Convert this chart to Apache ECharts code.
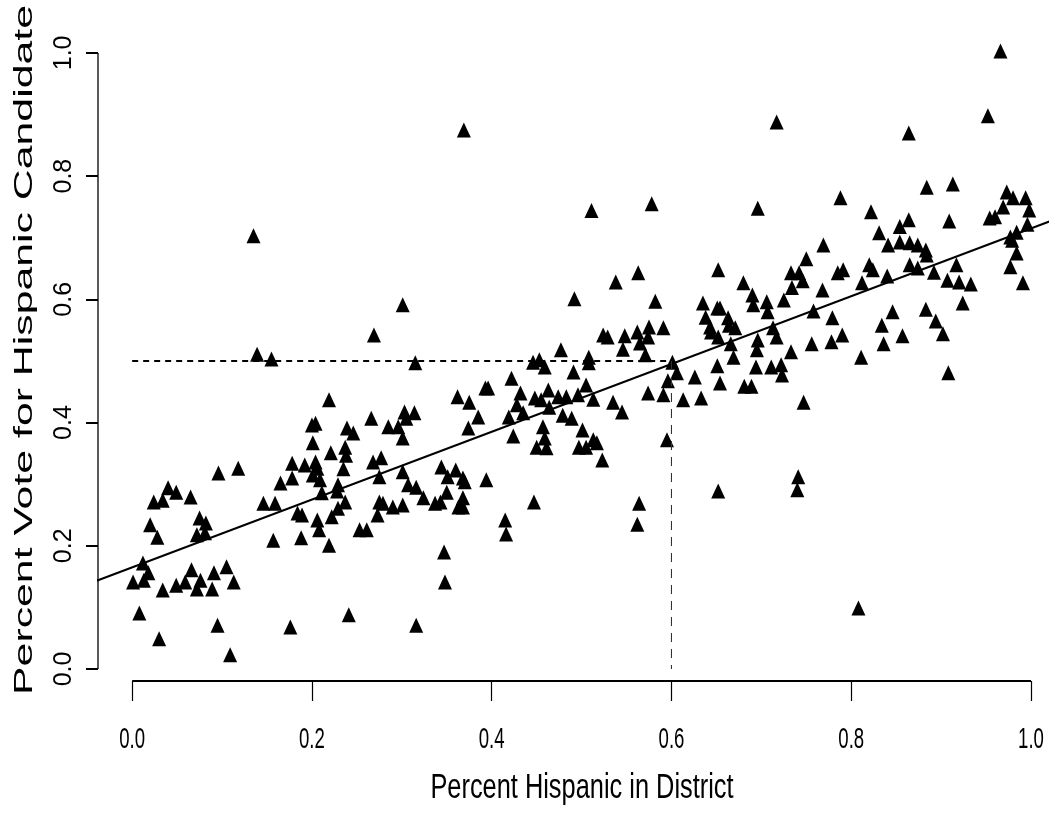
<!DOCTYPE html>
<html>
<head>
<meta charset="utf-8">
<title>Percent Hispanic vs Vote for Hispanic Candidate</title>
<script src="https://cdn.jsdelivr.net/npm/echarts@6/dist/echarts.min.js"></script>
<style>
  html, body { margin: 0; padding: 0; background: #fff; }
  #chart { width: 1049px; height: 815px; }
</style>
</head>
<body>
<div id="chart"></div>
<script>
// districts: share Hispanic (x) and vote share of the Hispanic candidate (y)
const pctHispanic = [
  0.219,0.200,0.204,0.201,0.221,0.178,0.192,0.204,0.206,0.201,0.209,0.165,0.178,0.229,0.211,0.096,0.118,0.146,0.159,0.184,
  0.189,0.206,0.208,0.222,0.229,0.157,0.188,0.219,0.040,0.049,0.034,0.024,0.065,0.020,0.028,0.075,0.082,0.081,0.072,0.012,
  0.018,0.013,0.001,0.034,0.049,0.059,0.066,0.076,0.072,0.089,0.091,0.105,0.113,0.008,0.030,0.095,0.176,0.109,
  0.301,0.269,0.315,0.446,0.453,0.459,
  0.362,0.375,0.393,0.396,0.422,0.432,0.428,0.435,0.448,0.455,0.463,0.419,0.385,0.374,0.424,0.457,0.459,0.450,0.461,0.464,
  0.266,0.285,0.303,0.305,0.314,0.296,0.301,0.239,0.246,
  0.237,0.238,0.235,0.268,0.277,0.275,0.301,0.307,0.316,0.324,0.344,0.351,0.360,0.368,0.370,0.394,0.350,0.368,0.343,0.337,
  0.363,0.368,0.275,0.279,0.290,0.301,
  0.273,0.228,0.237,0.253,0.261,
  0.415,0.416,0.447,0.347,0.348,0.241,0.316,
  0.492,0.538,0.563,0.582,0.652,0.680,0.690,0.691,0.635,0.638,0.643,0.644,0.651,0.654,0.663,0.664,0.671,0.652,0.666,0.669,
  0.651,0.654,0.681,0.689,0.694,0.696,0.695,0.524,0.529,0.548,0.546,0.562,0.565,
  0.575,0.574,0.591,0.571,0.477,0.508,0.508,0.601,0.606,0.596,0.626,0.491,0.505,0.496,
  0.474,0.483,
  0.513,0.535,0.545,0.574,
  0.591,0.613,0.633,0.479,0.489,0.501,0.497,0.505,0.513,0.517,0.523,0.595,0.652,0.564,0.562,
  0.717,0.864,0.952,0.788,0.884,0.913,0.822,0.909,0.973,0.980,0.994,0.969,0.998,0.954,0.960,0.996,0.984,0.977,0.979,0.984,
  0.977,
  0.991,0.854,0.864,0.831,0.841,0.854,0.865,0.874,0.883,0.884,0.865,0.874,0.892,0.917,0.907,0.920,0.933,0.924,0.883,0.894,
  0.902,0.908,0.846,0.834,0.857,0.836,0.811,0.840,0.820,0.824,0.812,0.785,0.791,0.769,0.750,0.733,0.742,0.746,0.734,0.768,
  0.725,0.758,0.779,0.790,0.778,0.756,0.733,0.706,0.707,0.713,0.717,0.711,0.722,0.723,0.747,0.741,0.696,
  0.135,0.139,0.155,0.369,0.511,0.578,0.966,0.740,0.808
];
const pctVote = [
  0.437,0.396,0.399,0.367,0.351,0.334,0.331,0.336,0.326,0.315,0.307,0.302,0.310,0.299,0.286,0.318,0.326,0.269,0.269,0.253,
  0.250,0.242,0.226,0.247,0.261,0.209,0.213,0.201,0.294,0.287,0.274,0.271,0.279,0.234,0.214,0.245,0.237,0.221,0.218,0.172,
  0.156,0.144,0.141,0.128,0.136,0.141,0.161,0.144,0.130,0.130,0.156,0.166,0.141,0.091,0.049,0.071,0.068,0.023,
  0.591,0.542,0.497,0.498,0.502,0.490,
  0.442,0.433,0.456,0.456,0.472,0.448,0.429,0.416,0.440,0.437,0.453,0.409,0.409,0.391,0.378,0.393,0.375,0.360,0.359,0.425,
  0.407,0.393,0.417,0.407,0.416,0.393,0.375,0.391,0.383,
  0.360,0.347,0.325,0.336,0.343,0.312,0.320,0.299,0.295,0.278,0.328,0.312,0.323,0.310,0.304,0.307,0.287,0.278,0.271,0.269,
  0.263,0.263,0.271,0.269,0.263,0.266,
  0.250,0.289,0.271,0.226,0.226,
  0.242,0.219,0.271,0.190,0.141,0.088,0.071,
  0.601,0.628,0.643,0.597,0.648,0.627,0.607,0.591,0.594,0.571,0.555,0.547,0.586,0.586,0.570,0.558,0.554,0.539,0.528,0.506,
  0.492,0.464,0.459,0.459,0.490,0.534,0.518,0.542,0.539,0.541,0.519,0.547,0.529,
  0.555,0.539,0.554,0.510,0.518,0.506,0.497,0.498,0.481,0.468,0.474,0.482,0.461,0.445,
  0.442,0.442,
  0.438,0.433,0.417,0.448,
  0.445,0.437,0.440,0.412,0.407,0.388,0.360,0.360,0.372,0.367,0.339,0.372,0.289,0.269,0.235,
  0.888,0.870,0.898,0.765,0.782,0.787,0.742,0.727,0.774,0.765,0.765,0.750,0.745,0.732,0.734,0.722,0.709,0.701,0.696,0.675,
  0.653,
  0.627,0.718,0.729,0.708,0.688,0.693,0.692,0.688,0.680,0.672,0.656,0.651,0.644,0.656,0.631,0.628,0.625,0.594,0.584,0.565,
  0.544,0.481,0.580,0.558,0.541,0.528,0.506,0.638,0.656,0.648,0.627,0.643,0.648,0.688,0.666,0.643,0.643,0.630,0.619,0.615,
  0.599,0.581,0.570,0.542,0.531,0.528,0.515,0.596,0.580,0.554,0.539,0.490,0.494,0.477,0.433,0.312,0.748,
  0.703,0.511,0.503,0.875,0.744,0.755,1.003,0.291,0.099
];

const xTicks = [0, 0.2, 0.4, 0.6, 0.8, 1.0];
const yTicks = [0, 0.2, 0.4, 0.6, 0.8, 1.0];

// fitted line, read at both ends of the plot region
const fitX = [-0.04, 1.04];
const fitY = [0.143, 0.737];

// reference guides: 60% Hispanic -> 50% of the vote
const cutX = 0.6;
const cutY = 0.5;

const xRange = [-0.038, 1.02];
const yRange = [-0.0195, 1.042];

const chart = echarts.init(document.getElementById('chart'));

const points = pctHispanic.map((x, i) => [x, pctVote[i]]);

const titles = [
  {
    type: 'text',
    id: 'xTitle',
    x: 582,
    y: 788,
    scaleX: 0.725,
    style: {
      text: 'Percent Hispanic in District',
      font: '35px "Liberation Sans", Arial, sans-serif',
      fill: '#000',
      align: 'center',
      verticalAlign: 'middle'
    }
  },
  {
    type: 'text',
    id: 'yTitle',
    x: 25,
    y: 350,
    rotation: Math.PI / 2,
    scaleY: 0.62,
    style: {
      text: 'Percent Vote for Hispanic Candidate',
      font: '42.8px "Liberation Sans", Arial, sans-serif',
      fill: '#000',
      align: 'center',
      verticalAlign: 'middle'
    }
  }
];

const option = {
  animation: false,
  backgroundColor: '#fff',
  grid: { left: 98, right: 0, top: 27, bottom: 134 },
  xAxis: {
    type: 'value',
    min: xRange[0],
    max: xRange[1],
    axisLine: { show: false, onZero: false },
    splitLine: { show: false },
    axisTick: {
      customValues: xTicks,
      length: 20,
      lineStyle: { color: '#000', width: 1.2 }
    },
    axisLabel: { show: false }
  },
  yAxis: {
    type: 'value',
    min: yRange[0],
    max: yRange[1],
    axisLine: { show: false, onZero: false },
    splitLine: { show: false },
    axisTick: {
      customValues: yTicks,
      length: 12,
      lineStyle: { color: '#000', width: 2 }
    },
    axisLabel: {
      customValues: yTicks,
      rotate: 90,
      margin: 21,
      color: '#000',
      fontSize: 25,
      fontFamily: '"Liberation Sans", Arial, sans-serif',
      formatter: (v) => v.toFixed(1)
    }
  },
  graphic: titles,
  series: [
    {
      // x axis line, from first to last tick
      type: 'line',
      data: [[xTicks[0], yRange[0]], [xTicks[xTicks.length - 1], yRange[0]]],
      symbol: 'none',
      clip: false,
      silent: true,
      lineStyle: { color: '#000', width: 2 }
    },
    {
      // y axis line
      type: 'line',
      data: [[xRange[0], yTicks[0]], [xRange[0], yTicks[yTicks.length - 1]]],
      symbol: 'none',
      clip: false,
      silent: true,
      lineStyle: { color: '#000', width: 1.3 }
    },
    {
      type: 'scatter',
      data: points,
      symbol: 'triangle',
      symbolSize: [14, 15],
      itemStyle: { color: '#000', opacity: 1 },
      silent: true
    },
    {
      // regression line
      type: 'line',
      data: [[fitX[0], fitY[0]], [fitX[1], fitY[1]]],
      symbol: 'none',
      silent: true,
      lineStyle: { color: '#000', width: 2 }
    },
    {
      type: 'line',
      data: [[0, cutY], [cutX, cutY]],
      symbol: 'none',
      silent: true,
      lineStyle: { color: '#000', width: 2, type: [6, 5] }
    },
    {
      type: 'line',
      data: [[cutX, cutY], [cutX, 0]],
      symbol: 'none',
      silent: true,
      lineStyle: { color: '#333', width: 1.1, type: [9, 7] }
    }
  ]
};

chart.setOption(option);

// x tick labels are narrow in the original, so they are placed through the
// axis scale and squeezed horizontally
const labelY = chart.convertToPixel({ yAxisIndex: 0 }, yRange[0]) + 59;
const xTickLabels = xTicks.map((v, i) => ({
  type: 'text',
  id: 'xTick' + i,
  x: chart.convertToPixel({ xAxisIndex: 0 }, v),
  y: labelY,
  scaleX: 0.62,
  style: {
    text: v.toFixed(1),
    font: '30px "Liberation Sans", Arial, sans-serif',
    fill: '#000',
    align: 'center',
    verticalAlign: 'middle'
  }
}));
chart.setOption({ graphic: titles.concat(xTickLabels) });

window.addEventListener('resize', () => {
  chart.resize();
});
</script>
</body>
</html>
